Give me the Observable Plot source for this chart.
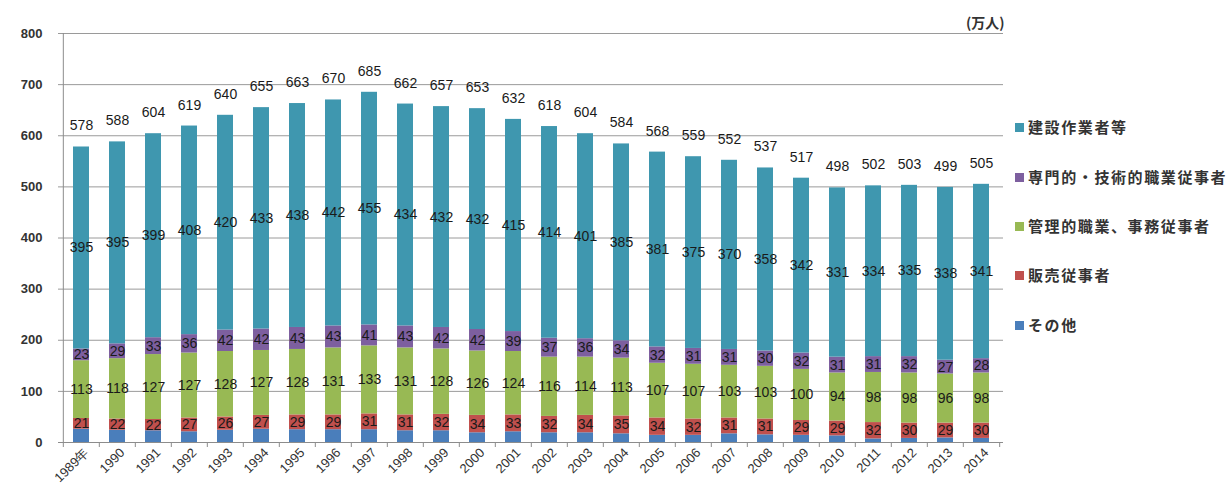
<!DOCTYPE html>
<html lang="ja">
<head>
<meta charset="utf-8">
<script src="https://cdn.jsdelivr.net/npm/d3@7"></script>
<script src="https://cdn.jsdelivr.net/npm/@observablehq/plot@0.6"></script>
<style>
  html, body { margin: 0; padding: 0; background: #fff; }
  #wrap { position: relative; width: 1231px; height: 497px; }
  #unit { position: absolute; left: 966px; top: 12px; font: bold 14px "Noto Sans CJK JP", sans-serif; color: #333; }
  #legend { position: absolute; left: 1015px; top: 0; font-family: "Noto Sans CJK JP", sans-serif; }
  .item { position: absolute; left: 0; white-space: nowrap; font-size: 15px; font-weight: bold; color: #333; letter-spacing: 1.6px; line-height: 20px; }
  .sw { display: inline-block; width: 9px; height: 9px; margin-right: 4px; vertical-align: 1px; }
</style>
</head>
<body>
<div id="wrap">
  <div id="chart"></div>
  <div id="unit">(万人)</div>
  <div id="legend"></div>
</div>
<script>
// 建設業就業者数の職業別内訳（万人）
const years = ["1989","1990","1991","1992","1993","1994","1995","1996","1997","1998","1999","2000","2001","2002","2003","2004","2005","2006","2007","2008","2009","2010","2011","2012","2013","2014"];
const totals       = [578,588,604,619,640,655,663,670,685,662,657,653,632,618,604,584,568,559,552,537,517,498,502,503,499,505];
const construction = [395,395,399,408,420,433,438,442,455,434,432,432,415,414,401,385,381,375,370,358,342,331,334,335,338,341];
const professional = [23,29,33,36,42,42,43,43,41,43,42,42,39,37,36,34,32,31,31,30,32,31,31,32,27,28];
const clerical     = [113,118,127,127,128,127,128,131,133,131,128,126,124,116,114,113,107,107,103,103,100,94,98,98,96,98];
const sales        = [21,22,22,27,26,27,29,29,31,31,32,34,33,32,34,35,34,32,31,31,29,29,32,30,29,30];
const other        = [26,24,23,21,24,26,25,25,25,23,23,19,21,19,19,17,14,14,17,15,14,13,7,8,9,8];

// 積み上げ順（下から）
const seriesNames = ["その他", "販売従事者", "管理的職業、事務従事者", "専門的・技術的職業従事者", "建設作業者等"];
const seriesValues = [other, sales, clerical, professional, construction];
const seriesColors = ["#4a7ebb", "#c0504d", "#98b954", "#7d5f9f", "#3f97af"];
const labelled = [false, true, true, true, true];
const yTicks = [0, 100, 200, 300, 400, 500, 600, 700, 800];

const rows = [];
seriesNames.forEach((s, i) => {
  years.forEach((y, j) => rows.push({year: y, series: s, value: seriesValues[i][j], labelled: labelled[i]}));
});
const totalRows = years.map((y, j) => ({year: y, total: totals[j]}));

const W = 1231, H = 497, mL = 58, mR = 228, mT = 33, mB = 55;
const step = (W - mL - mR) / years.length;
const font = '"Liberation Sans", Arial, sans-serif';

const chart = Plot.plot({
  width: W,
  height: H,
  marginLeft: mL,
  marginRight: mR,
  marginTop: mT,
  marginBottom: mB,
  style: {fontFamily: font, background: "#fff"},
  x: {domain: years, paddingInner: 0.56, paddingOuter: 0.28, label: null},
  y: {domain: [0, 800], label: null},
  color: {domain: seriesNames, range: seriesColors},
  marks: [
    Plot.gridY(yTicks, {stroke: "#9a9a9a", strokeOpacity: 1, strokeWidth: 1}),
    Plot.axisY(yTicks, {tickSize: 0, tickPadding: 16, fontSize: 13, fontWeight: "bold", fill: "#333", label: null}),
    Plot.barY(rows, {x: "year", y: "value", fill: "series", order: seriesNames}),
    // 各区分の値（その他は表示しない）
    Plot.text(rows, Plot.stackY({
      x: "year", y: "value", z: "series", order: seriesNames,
      text: d => d.labelled ? String(d.value) : null, fontSize: 14, fill: "#1a1a1a"
    })),
    Plot.text(totalRows, {x: "year", y: "total", text: "total", dy: -21, fontSize: 14, fill: "#1a1a1a"}),
    Plot.ruleX([0], {x: () => years[0], dx: -step / 2, y1: 0, y2: 800, stroke: "#8c8c8c"}),
    Plot.ruleY([0], {stroke: "#8c8c8c"}),
    // 区切り目盛（カテゴリ境界）
    Plot.axisX({tickSize: 5, tickFormat: () => "", dx: -step / 2, stroke: "#8c8c8c", label: null}),
    Plot.axisX([years[years.length - 1]], {tickSize: 5, tickFormat: () => "", dx: step / 2, stroke: "#8c8c8c", label: null}),
    Plot.axisX({
      tickSize: 0, tickPadding: 8, tickRotate: -45, dx: 5,
      tickFormat: (d, i) => i === 0 ? d + "年" : d,
      fontSize: 13, fill: "#333", label: null
    })
  ]
});
document.getElementById("chart").append(chart);

const legend = document.getElementById("legend");
const legendOrder = [4, 3, 2, 1, 0];
const legendY = [117, 167, 216, 265, 315];
legendOrder.forEach((i, k) => {
  const el = document.createElement("div");
  el.className = "item";
  el.style.top = legendY[k] + "px";
  el.innerHTML = `<span class="sw" style="background:${seriesColors[i]}"></span>${seriesNames[i]}`;
  legend.append(el);
});
</script>
</body>
</html>
